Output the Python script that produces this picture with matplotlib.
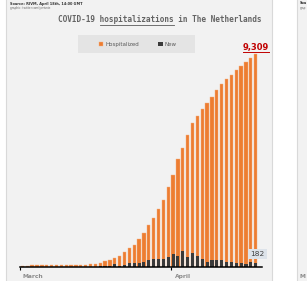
import matplotlib.pyplot as plt
from matplotlib.patches import Rectangle
from matplotlib.lines import Line2D
import pandas as pd

# Data
days = pd.date_range('2020-03-01', '2020-04-18')
hospitalized = [62, 64, 66, 68, 70, 72, 74, 76, 78, 80, 84, 88, 95, 105,
                118, 126, 190, 240, 327, 392, 488, 645, 807, 968,
                1221, 1500, 1818, 2136, 2529, 2939, 3488, 4011, 4709, 5188,
                5755, 6296, 6601, 6889, 7150, 7412, 7735, 7996, 8197, 8371,
                8589, 8764, 8955, 9112, 9309]
new = [0, 0, 0, 0, 1, 2, 3, 4, 6, 8, 10, 12, 15, 18,
       20, 15, 30, 40, 60, 130, 60, 70, 175, 175,
       175, 230, 290, 335, 335, 335, 436, 553, 493, 710,
       436, 610, 493, 335, 230, 290, 290, 290, 230, 230,
       175, 175, 130, 230, 182]
series_names = ['Hospitalized', 'New']
month_names = ['March', 'April']

W, H = 307, 281
fig = plt.figure(figsize=(W / 100, H / 100), dpi=100)
fig.patch.set_facecolor('white')

def fx(x):
    return x / W

def fy(y):
    return 1 - y / H

# panel backgrounds
fig.patches.append(Rectangle((fx(6), -0.05), fx(266), 1.2, transform=fig.transFigure,
                             fc='#f2f2f2', ec='#d9d9d9', lw=0.8, zorder=-3))
fig.patches.append(Rectangle((fx(297), -0.05), fx(30), 1.2, transform=fig.transFigure,
                             fc='#f2f2f2', ec='#d9d9d9', lw=0.8, zorder=-3))
# legend background
fig.patches.append(Rectangle((fx(78), fy(53)), fx(117), 18 / H, transform=fig.transFigure,
                             fc='#e4e4e4', ec='none', zorder=-2))

ax = fig.add_axes([fx(20), 14 / H, fx(242), 227 / H])
ax.set_zorder(2)
ax.set_facecolor('none')

x = list(range(len(hospitalized)))
b1 = ax.bar(x, hospitalized, width=0.68, color='#ED7D31', edgecolor='#F4B183',
            linewidth=0.3, label=series_names[0])
b2 = ax.bar(x, new, width=0.64, color='#3A3A3A', label=series_names[1])

ax.set_xlim(-0.5, 49.3)
ax.set_ylim(0, 9900)
for s in ['top', 'left', 'right']:
    ax.spines[s].set_visible(False)
ax.spines['bottom'].set_linewidth(1.1)
ax.spines['bottom'].set_color('black')
ax.set_yticks([])

month_starts = [i for i, d in enumerate(days) if d.day == 1]
ax.set_xticks([i - 0.5 for i in month_starts])
ax.set_xticklabels([])
ax.tick_params(axis='x', length=2.5, width=0.8, color='black', direction='out')
for i, name in zip(month_starts, month_names):
    ax.text(i + 2.1, -0.044, name, transform=ax.get_xaxis_transform(),
            ha='center', va='center', fontsize=4.3, fontweight='bold', color='#8c8c8c',
            clip_on=False)

# legend
ax.legend(handles=[b1, b2], loc='center', bbox_to_anchor=(fx(138), fy(44.5)),
          bbox_transform=fig.transFigure, ncol=2, frameon=False, fontsize=4,
          handlelength=0.8, handleheight=0.8, handletextpad=0.4,
          columnspacing=3.4, labelcolor='#595959')

# source lines
fig.text(fx(10), fy(3.5), 'Source: RIVM, April 18th, 14:00 GMT', fontsize=2.5,
         fontweight='bold', color='#333333', va='center', ha='left')
fig.text(fx(10), fy(8.5), 'graphic: twitter.com/yorisnie', fontsize=2.1,
         color='#666666', va='center', ha='left')
fig.text(fx(300), fy(3.5), 'Sou', fontsize=2.5, fontweight='bold', color='#333333', va='center')
fig.text(fx(300), fy(8.5), 'grap', fontsize=2.1, color='#666666', va='center')
fig.text(fx(299), fy(277), 'M', fontsize=4.3, fontweight='bold', color='#8c8c8c', va='center')

# title with underlined word
title_font = dict(fontsize=5.6, fontweight='bold', color='#646464', family='DejaVu Sans Mono')
x0, base = fx(58), fy(22)
fig.text(x0, base, 'COVID-19 hospitalizations in The Netherlands', ha='left', va='baseline', **title_font)

fig.canvas.draw()
renderer = fig.canvas.get_renderer()

def width_px(s, **kw):
    t = fig.text(0, 0, s, **kw)
    w = t.get_window_extent(renderer).width
    t.remove()
    return w

w_all = width_px('COVID-19 hospitalizations', **title_font)
w_word = width_px('hospitalizations', **title_font)
start = x0 * W + w_all - w_word
end = x0 * W + w_all
fig.lines.append(Line2D([start / W, end / W], [fy(24.8), fy(24.8)], transform=fig.transFigure,
                        color='#595959', lw=0.6))

# last value labels
last = len(hospitalized) - 1
t_top = ax.annotate(f'{hospitalized[last]:,}', xy=(last, hospitalized[last]),
                    xytext=(0, 2.6), textcoords='offset points', ha='center', va='baseline',
                    fontsize=6, fontweight='bold', color='#C00000')
fig.canvas.draw()
bb = t_top.get_window_extent(renderer)
fig.lines.append(Line2D([bb.x0 / W, bb.x1 / W], [(bb.y0 + 0.3) / H, (bb.y0 + 0.3) / H],
                        transform=fig.transFigure, color='#C00000', lw=0.7))

ax.annotate(f'{new[last]}', xy=(last, new[last]), xytext=(1.3, 6.2),
            textcoords='offset points', ha='center', va='center',
            fontsize=5.3, color='#404040',
            bbox=dict(boxstyle='square,pad=0.3', fc='#dde3ea', ec='none'))

fig.savefig('out.png', dpi=100)
